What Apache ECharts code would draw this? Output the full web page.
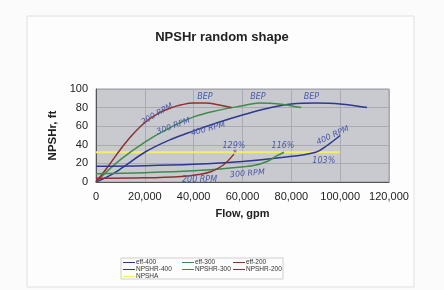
<!DOCTYPE html>
<html>
<head>
<meta charset="utf-8">
<script src="https://cdn.jsdelivr.net/npm/echarts@6/dist/echarts.min.js"></script>
<style>
html,body{margin:0;padding:0;background:#fbfbfb;}
#c{width:444px;height:290px;}
</style>
</head>
<body>
<div id="c"></div>
<script>
// ---- data ----
const xTicks = [0, 20000, 40000, 60000, 80000, 100000, 120000];
const yTicks = [0, 20, 40, 60, 80, 100];

const eff400 = [[0,0],[5000,6],[10000,14],[20000,32],[30000,45],[40000,55],[50000,64],[60000,72],[70000,79],[80000,84],[90000,85],[100000,84],[111000,80]];
const eff300 = [[0,0],[10000,24],[20000,43],[30000,58],[40000,70],[50000,77],[60000,82],[67000,85],[75000,84],[84000,80]];
const eff200 = [[0,0],[5000,17],[10000,35],[15000,51],[20000,64],[25000,73],[30000,79],[35000,83],[40000,85],[45000,85],[50000,83],[55500,80]];
const npshr400 = [[0,17],[20000,17.5],[40000,19],[60000,22],[75000,26],[90000,32],[95000,40],[100000,50]];
const npshr300 = [[0,9],[20000,10],[40000,12],[55000,15],[65000,18],[70000,22],[74000,28],[77000,32]];
const npshr200 = [[0,4],[20000,4.5],[35000,6],[42000,8],[47000,11],[52000,18],[56500,30]];
const npsha = [[0,32],[100000,32]];

const notes = [
  ['BEP', 44600, 92, 0], ['BEP', 66300, 92, 0], ['BEP', 88200, 92, 0],
  ['200 RPM', 25000, 73, 30], ['300 RPM', 31700, 60, 20], ['400 RPM', 45900, 57, 15],
  ['129%', 56500, 38.5, 0], ['116%', 76600, 38.5, 0], ['103%', 93300, 23, 0],
  ['400 RPM', 97000, 50, 25], ['300 RPM', 62000, 9, 5], ['200 RPM', 42400, 2.5, 0],
  ['*', 56900, 30, 0]
];

const colors = {blue:'#2e3890', green:'#3f8a4c', red:'#8c3232', yellow:'#f2f060'};

// ---- chart ----
const chart = echarts.init(document.getElementById('c'), null, {renderer:'canvas'});
const FONT = '"Liberation Sans", Arial, sans-serif';
function line(name, data, color){
  return {name, type:'line', data, smooth:0.4, symbol:'none', showSymbol:false,
    lineStyle:{color, width:1.5}, itemStyle:{color}, z:3};
}
const legendCommon = {
  orient:'vertical', itemWidth:12, itemHeight:6, itemGap:0,
  icon:'path://M0,2.5 L12,2.5 L12,3.5 L0,3.5 Z',
  textStyle:{fontSize:6.5, lineHeight:6, color:'#333', fontFamily:FONT, padding:[0,0,0,-4]},
  selectedMode:false, padding:0
};
chart.setOption({
  backgroundColor:'#fbfbfb',
  animation:false,
  title:{text:'NPSHr random shape', left:'center', top:26,
    textStyle:{fontSize:13, fontWeight:'bold', color:'#222', fontFamily:FONT}},
  graphic:[
    {type:'rect', shape:{x:27, y:16, width:387, height:271}, style:{fill:'#fdfdfd', stroke:'#e0e0e0', lineWidth:1}, z:-10},
    {type:'rect', shape:{x:121, y:258, width:162, height:21}, style:{fill:'#fdfdfd', stroke:'#cfcfcf', lineWidth:1}, z:-5}
  ],
  legend:[
    Object.assign({data:['eff-400','NPSHR-400','NPSHA'], left:123, top:259}, legendCommon),
    Object.assign({data:['eff-300','NPSHR-300'], left:182, top:259}, legendCommon),
    Object.assign({data:['eff-200','NPSHR-200'], left:233, top:259}, legendCommon)
  ],
  grid:{left:96, right:55, top:89, bottom:108, show:true, backgroundColor:'#c9cad0', borderColor:'#9a9aa2', borderWidth:1},
  xAxis:{type:'value', min:xTicks[0], max:xTicks[xTicks.length-1], interval:20000,
    name:'Flow, gpm', nameLocation:'middle', nameGap:26,
    nameTextStyle:{fontSize:11, fontWeight:'bold', color:'#222', fontFamily:FONT},
    axisLine:{show:true, lineStyle:{color:'#555'}}, axisTick:{show:false},
    axisLabel:{fontSize:11, color:'#222', fontFamily:FONT, margin:9,
      formatter:v=>v.toLocaleString('en-US')},
    splitLine:{show:true, lineStyle:{color:'#a9aab2', width:1}}},
  yAxis:{type:'value', min:yTicks[0], max:yTicks[yTicks.length-1], interval:20,
    name:'NPSHr, ft', nameLocation:'middle', nameGap:29, nameRotate:90,
    nameTextStyle:{fontSize:11.5, fontWeight:'bold', color:'#222', fontFamily:FONT},
    axisLine:{show:true, lineStyle:{color:'#555'}}, axisTick:{show:false},
    axisLabel:{fontSize:11, color:'#222', fontFamily:FONT, margin:8},
    splitLine:{show:true, lineStyle:{color:'#a9aab2', width:1}}},
  series:[
    line('eff-400', eff400, colors.blue),
    line('eff-300', eff300, colors.green),
    line('eff-200', eff200, colors.red),
    line('NPSHR-400', npshr400, colors.blue),
    line('NPSHR-300', npshr300, colors.green),
    line('NPSHR-200', npshr200, colors.red),
    Object.assign(line('NPSHA', npsha, colors.yellow), {smooth:false, lineStyle:{color:colors.yellow, width:2}, z:2}),
    {type:'scatter', name:'notes', symbol:'circle', symbolSize:1, itemStyle:{color:'rgba(0,0,0,0)'}, z:5, silent:true,
      data:notes.map(n=>({name:n[0], value:[n[1], n[2]], label:{rotate:n[3]}})),
      label:{show:true, position:'inside', formatter:p=>p.name, fontSize:8, fontStyle:'italic',
        color:'#4a58a8', fontFamily:'"DejaVu Sans", sans-serif', opacity:1}}
  ]
});
</script>
</body>
</html>
